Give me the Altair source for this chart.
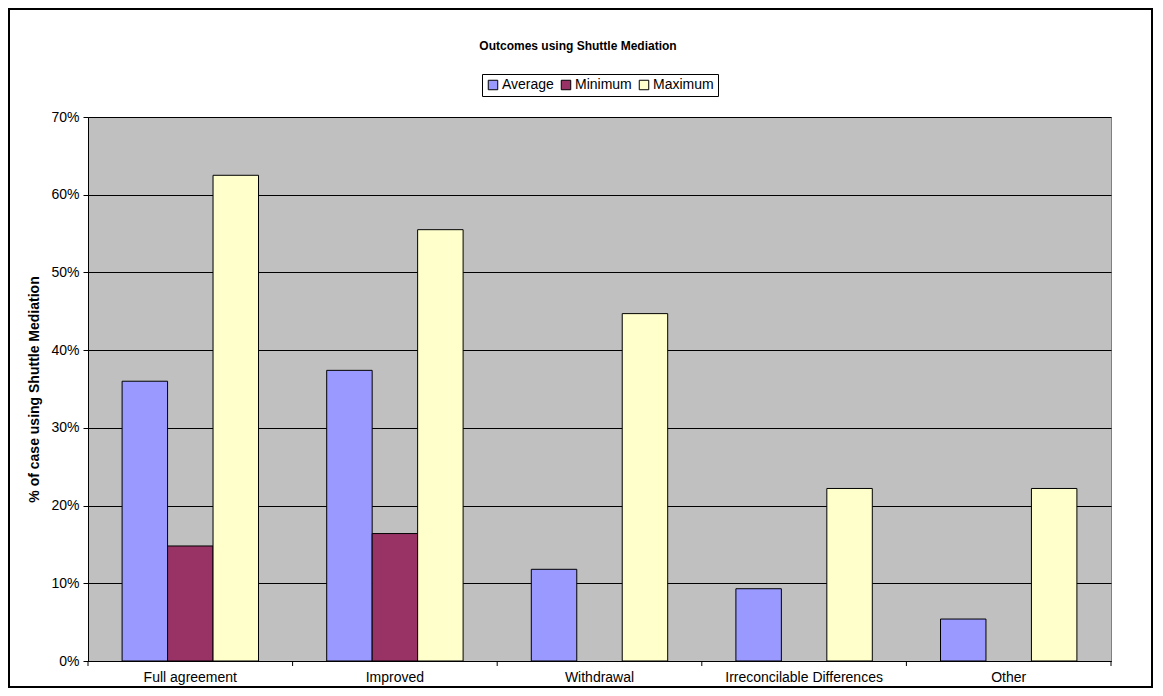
import altair as alt
import pandas as pd

categories = ["Full agreement", "Improved", "Withdrawal", "Irreconcilable Differences", "Other"]
series = ["Average", "Minimum", "Maximum"]
average = [0.360, 0.374, 0.118, 0.093, 0.054]
minimum = [0.148, 0.164, 0.0, 0.0, 0.0]
maximum = [0.625, 0.555, 0.447, 0.222, 0.222]
colors = ["#9999FF", "#993366", "#FFFFCC"]
y_ticks = [0, 0.1, 0.2, 0.3, 0.4, 0.5, 0.6, 0.7]

rows = []
for vals, s in zip([average, minimum, maximum], series):
    for c, v in zip(categories, vals):
        rows.append({"category": c, "series": s, "value": v})
df = pd.DataFrame(rows)

FONT = "Liberation Sans"
W, H = 1023, 544

xscale = alt.Scale(domain=categories, paddingInner=0, paddingOuter=0)

bars = alt.Chart(df).transform_filter("datum.value > 0").mark_bar(
    stroke="black", strokeWidth=1
).encode(
    x=alt.X("category:N", scale=xscale, sort=categories,
            axis=alt.Axis(title=None, labelAngle=0, ticks=False, domainColor="black",
                          labelFont=FONT, labelFontSize=14, labelColor="black",
                          labelPadding=9, grid=False)),
    xOffset=alt.XOffset("series:N", sort=series,
                        scale=alt.Scale(domain=series, paddingInner=0, paddingOuter=0.75)),
    y=alt.Y("value:Q", scale=alt.Scale(domain=[0, 0.7], nice=False),
            axis=alt.Axis(format=".0%", values=y_ticks, tickSize=5, tickColor="black",
                          domainColor="black", grid=True, gridColor="black", gridOpacity=1,
                          labelFont=FONT, labelFontSize=14, labelColor="black", labelPadding=4,
                          title="% of case using Shuttle Mediation", titleFont=FONT,
                          titleFontSize=14, titleFontWeight="bold", titleColor="black",
                          titlePadding=9)),
    color=alt.Color("series:N", sort=series,
                    scale=alt.Scale(domain=series, range=colors),
                    legend=alt.Legend(title=None, orient="none", legendX=394, legendY=-43,
                                      direction="horizontal", symbolType="square",
                                      symbolSize=90, symbolStrokeColor="black",
                                      symbolStrokeWidth=1, symbolOpacity=1,
                                      labelFont=FONT, labelFontSize=14, labelColor="black",
                                      strokeColor="black", fillColor="white", padding=4,
                                      columnPadding=5, labelOffset=2)),
)

tick_df = pd.DataFrame({"category": categories})
ticks = alt.Chart(tick_df).mark_rule(color="black", strokeWidth=1).encode(
    x=alt.X("category:N", scale=xscale, sort=categories, bandPosition=0),
    y=alt.value(H),
    y2=alt.value(H + 5),
)
end_tick = alt.Chart(tick_df).transform_filter(
    alt.datum.category == categories[-1]
).mark_rule(color="black", strokeWidth=1).encode(
    x=alt.X("category:N", scale=xscale, sort=categories, bandPosition=1),
    y=alt.value(H),
    y2=alt.value(H + 5),
)

one = pd.DataFrame({"k": [0]})
frame = alt.Chart(one).mark_rect(filled=False, stroke="black", strokeWidth=2).encode(
    x=alt.value(-79), x2=alt.value(1064), y=alt.value(-108), y2=alt.value(570)
)
title = alt.Chart(one).mark_text(
    font=FONT, fontSize=12, fontWeight="bold", color="black", align="center", baseline="alphabetic"
).encode(
    x=alt.value(490), y=alt.value(-67), text=alt.value("Outcomes using Shuttle Mediation")
)

chart = alt.layer(bars, ticks, end_tick, frame, title).properties(
    width=W, height=H,
    autosize=alt.AutoSizeParams(type="none"),
    padding={"left": 80, "top": 109, "right": 43, "bottom": 27},
).configure_view(
    fill="#C0C0C0", stroke="#808080", strokeWidth=1
)

chart.save("out.html", embed_options={"renderer": "svg", "actions": False})
